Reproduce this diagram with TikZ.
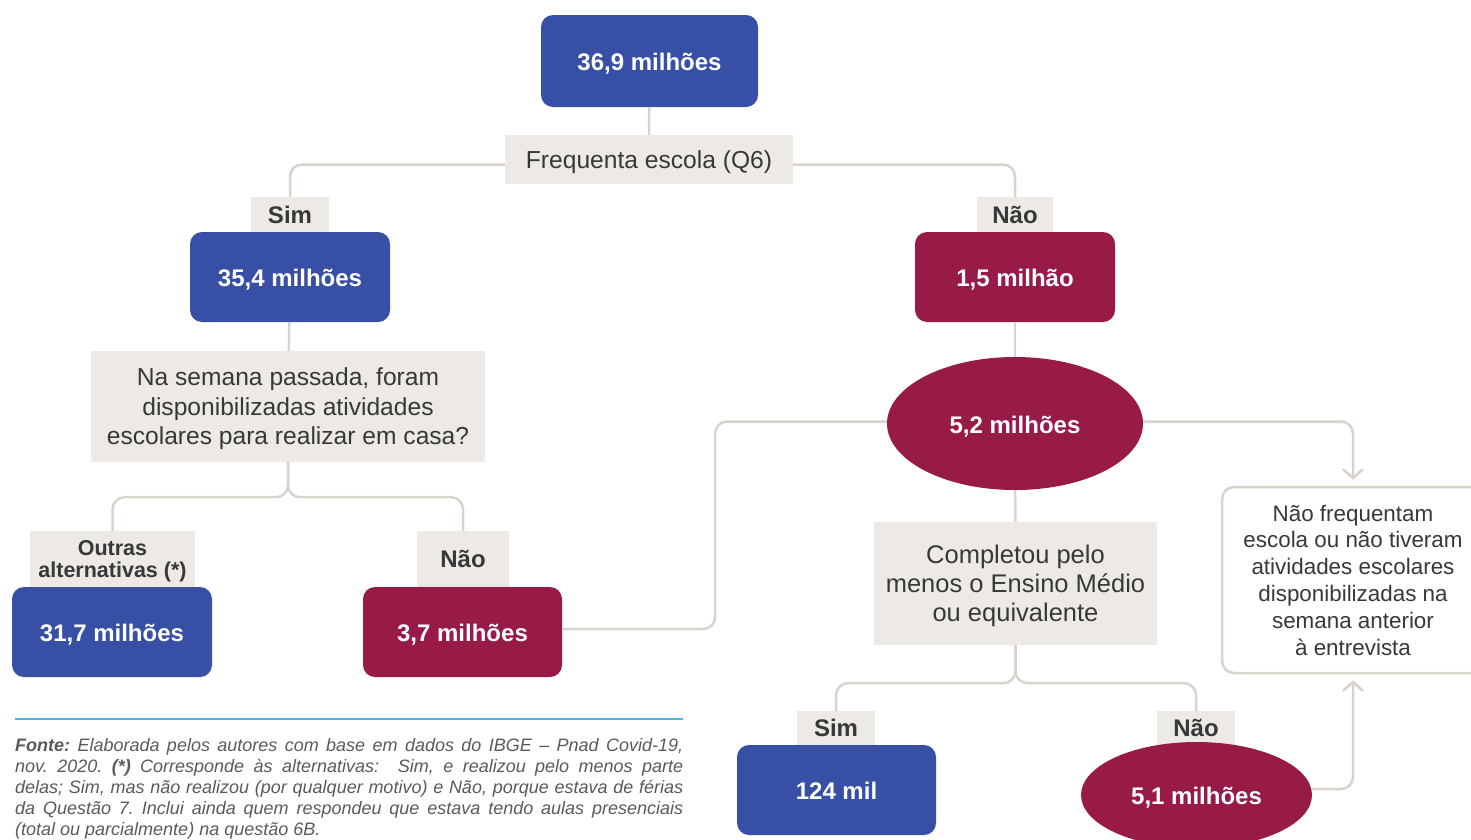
\documentclass[tikz,border=0pt]{standalone}
\usepackage{fontspec}
\setmainfont{Liberation Sans}
\newfontfamily\notefont{Liberation Sans}
\usetikzlibrary{shapes.geometric,arrows.meta,positioning}
\definecolor{ipeablue}{HTML}{3750A5}
\definecolor{ipeared}{HTML}{971A47}
\definecolor{tagfill}{HTML}{EDEAE5}
\definecolor{lineclr}{HTML}{D9D3CB}
\definecolor{textclr}{HTML}{383838}
\definecolor{notegray}{HTML}{5A5A5A}
\definecolor{ruleblue}{HTML}{47B5E6}

\begin{document}
\begin{tikzpicture}[x=1pt,y=-1pt,
    conn/.style={draw=lineclr,line width=2.5pt,rounded corners=12pt},
    arr/.style={conn,-{Straight Barb[length=9pt,width=20pt]},shorten >=6pt},
    numbox/.style={rounded corners=12pt,text=white,inner sep=0pt,text height=19pt,text depth=0pt,
      font=\bfseries\fontsize{24}{28}\selectfont,minimum width=200pt,minimum height=90pt},
    bluebox/.style={numbox,fill=ipeablue},
    redbox/.style={numbox,fill=ipeared},
    redoval/.style={ellipse,fill=ipeared,text=white,inner sep=0pt,text height=19pt,text depth=0pt,
      font=\bfseries\fontsize{24}{28}\selectfont},
    tag/.style={fill=tagfill,text=textclr,inner sep=0pt,align=center,text depth=0pt,
      font=\bfseries\fontsize{24}{28}\selectfont},
    question/.style={fill=tagfill,text=textclr,inner sep=0pt,align=center,text depth=0pt,
      font=\fontsize{24.6}{29.5}\selectfont}]
  \useasboundingbox (0,0) rectangle (1471,839);

  % first level
  \node[bluebox,minimum width=217pt,minimum height=92pt] (total) at (649.5,61) {36,9 milhões};
  \node[question,minimum width=288pt,minimum height=49pt] (freq) at (649,159.5) {Frequenta escola (Q6)};
  \node[tag,minimum width=78pt,minimum height=35pt] (simA) at (290,214.5) {Sim};
  \node[tag,minimum width=76pt,minimum height=35pt] (naoA) at (1015,214.5) {Não};
  \node[bluebox] (frequenta) at (290,277) {35,4 milhões};
  \node[redbox] (naofreq) at (1015,277) {1,5 milhão};

  % atividades em casa
  \node[question,minimum width=394pt,minimum height=111pt] (ativ) at (288,406.5)
    {Na semana passada, foram\\disponibilizadas atividades\\escolares para realizar em casa?};
  \node[tag,minimum width=165pt,minimum height=56pt,
    font=\bfseries\fontsize{21.5}{22}\selectfont] (outras) at (112.5,559) {Outras\\alternativas (*)};
  \node[tag,minimum width=92pt,minimum height=56pt] (naoB) at (463,559) {Não};
  \node[bluebox] (comativ) at (112,632) {31,7 milhões};
  \node[redbox,minimum width=199pt] (semativ) at (462.5,632) {3,7 milhões};

  % soma e escolaridade
  \node[redoval,minimum width=256pt,minimum height=133pt] (soma) at (1015,423.5) {5,2 milhões};
  \node[draw=lineclr,line width=2.5pt,fill=white,rounded corners=12pt,text=textclr,
    minimum width=262pt,minimum height=186pt,inner sep=0pt,align=center,text depth=-4pt,
    font=\fontsize{22.4}{26.8}\selectfont] (alvo) at (1353,580)
    {Não frequentam\\escola ou não tiveram\\atividades escolares\\disponibilizadas na\\semana anterior\\à entrevista};
  \node[question,minimum width=283pt,minimum height=123pt,
    font=\fontsize{25.5}{29}\selectfont] (medio) at (1015.5,583.5)
    {Completou pelo\\menos o Ensino Médio\\ou equivalente};
  \node[tag,minimum width=78pt,minimum height=34pt] (simC) at (836,728) {Sim};
  \node[tag,minimum width=78pt,minimum height=34pt] (naoC) at (1196,728) {Não};
  \node[bluebox,minimum width=199pt] (commedio) at (836.5,790) {124 mil};
  \node[redoval,minimum width=231pt,minimum height=106pt] (semmedio) at (1196.5,795) {5,1 milhões};

  % connectors
  \draw[conn] (total) -- (freq);
  \draw[conn] ([yshift=-5pt]freq.west) -| (simA.north);
  \draw[conn] ([yshift=-5pt]freq.east) -| (naoA.north);
  \draw[conn] (frequenta) -- (ativ);
  \draw[conn] (ativ.south) -- ++(0,35) -| (outras.north);
  \draw[conn] (ativ.south) -- ++(0,35) -| (naoB.north);
  \draw[conn] ([yshift=3pt]semativ.east) -- ++(153,0) |- ([yshift=2pt]soma.west);
  \draw[conn] (naofreq) -- (soma);
  \draw[arr] ([yshift=2pt]soma.east) -| (alvo.north);
  \draw[conn] (soma) -- (medio);
  \draw[conn] (medio.south) -- ++(0,38) -| (simC.north);
  \draw[conn] (medio.south) -- ++(0,38) -| (naoC.north);
  \draw[arr] ([yshift=6pt]semmedio.east) -| (alvo.south);

  % fonte
  \draw[ruleblue,line width=1.5pt] (15,719) -- (683,719);
  \node[anchor=north west,text width=668pt,inner sep=0pt,align=justify,text=notegray,
    font=\notefont\itshape\fontsize{18}{21}\selectfont\frenchspacing] (fonte) at (15,738)
    {\textbf{Fonte:} Elaborada pelos autores com base em dados do IBGE – Pnad Covid-19,\linebreak
     nov. 2020. \textbf{(*)} Corresponde às alternativas:\ \ Sim, e realizou pelo menos parte\linebreak
     delas; Sim, mas não realizou (por qualquer motivo) e Não, porque estava de férias\linebreak
     da Questão 7. Inclui ainda quem respondeu que estava tendo aulas presenciais\linebreak
     (total ou parcialmente) na questão 6B.};
\end{tikzpicture}
\end{document}
